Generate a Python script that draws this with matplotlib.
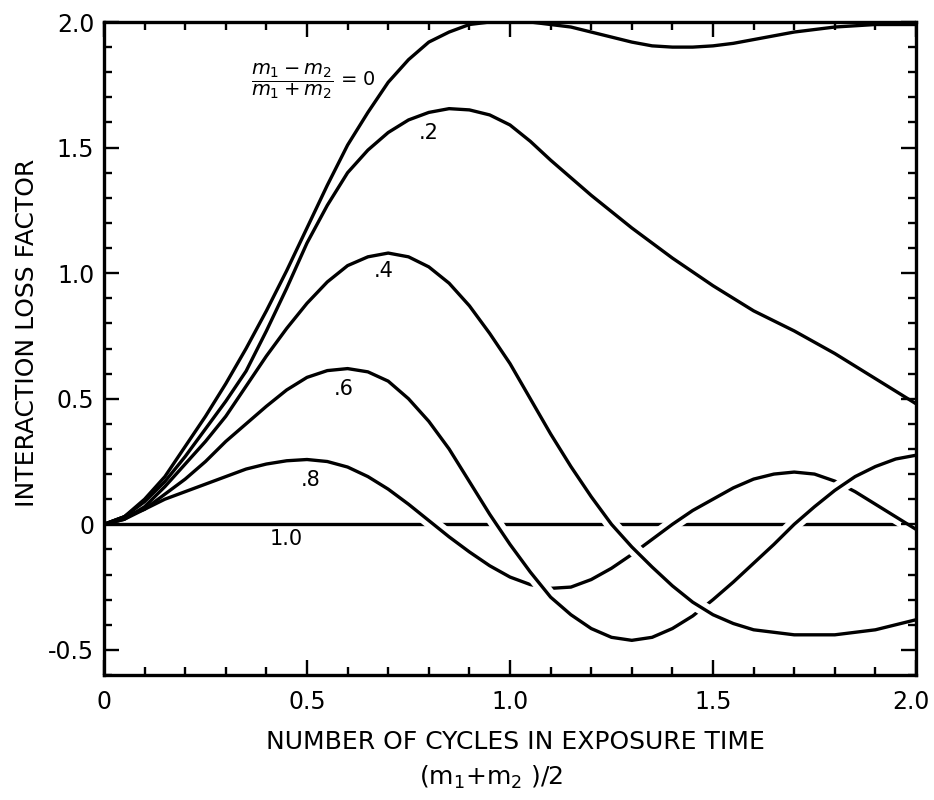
import numpy as np
import matplotlib
matplotlib.use("Agg")
import matplotlib.pyplot as plt
import matplotlib.transforms as mtransforms
from matplotlib.ticker import MultipleLocator, FixedLocator, FixedFormatter

plt.rcParams['font.family'] = ['DejaVu Sans']
plt.rcParams['mathtext.fontset'] = 'dejavusans'

# ---- data ----
x_r0 = [0, 0.05, 0.10, 0.15, 0.20, 0.25, 0.30, 0.35, 0.40, 0.45, 0.50, 0.55, 0.60,
        0.65, 0.70, 0.75, 0.80, 0.85, 0.90, 0.95, 1.00, 1.05, 1.10, 1.15, 1.20, 1.25,
        1.30, 1.35, 1.40, 1.45, 1.50, 1.55, 1.60, 1.70, 1.80, 1.90, 2.00]
y_r0 = [0, 0.03, 0.10, 0.19, 0.31, 0.43, 0.56, 0.70, 0.85, 1.01, 1.18, 1.35, 1.51,
        1.64, 1.76, 1.85, 1.92, 1.96, 1.99, 2.00, 2.00, 2.00, 1.99, 1.98, 1.96, 1.94,
        1.92, 1.905, 1.90, 1.90, 1.905, 1.915, 1.93, 1.96, 1.98, 1.99, 1.99]

x_r2 = [0, 0.05, 0.10, 0.15, 0.20, 0.25, 0.30, 0.35, 0.40, 0.45, 0.50, 0.55, 0.60,
        0.65, 0.70, 0.75, 0.80, 0.85, 0.90, 0.95, 1.00, 1.05, 1.10, 1.20, 1.30, 1.40,
        1.50, 1.60, 1.70, 1.80, 1.90, 2.00]
y_r2 = [0, 0.03, 0.09, 0.17, 0.27, 0.38, 0.49, 0.61, 0.77, 0.94, 1.12, 1.27, 1.40,
        1.49, 1.56, 1.61, 1.64, 1.655, 1.65, 1.63, 1.59, 1.525, 1.45, 1.31, 1.18, 1.06,
        0.95, 0.85, 0.77, 0.68, 0.58, 0.48]

x_r4 = [0, 0.05, 0.10, 0.15, 0.20, 0.25, 0.30, 0.35, 0.40, 0.45, 0.50, 0.55, 0.60,
        0.65, 0.70, 0.75, 0.80, 0.85, 0.90, 0.95, 1.00, 1.05, 1.10, 1.15, 1.20, 1.25,
        1.30, 1.35, 1.40, 1.45, 1.50, 1.55, 1.60, 1.70, 1.80, 1.90, 2.00]
y_r4 = [0, 0.02, 0.07, 0.15, 0.24, 0.33, 0.43, 0.55, 0.67, 0.78, 0.88, 0.965, 1.03,
        1.065, 1.08, 1.065, 1.025, 0.96, 0.87, 0.76, 0.64, 0.50, 0.36, 0.23, 0.11, 0.00,
        -0.09, -0.17, -0.245, -0.31, -0.36, -0.395, -0.42, -0.44, -0.44, -0.42, -0.38]

x_r6 = [0, 0.05, 0.10, 0.15, 0.20, 0.25, 0.30, 0.35, 0.40, 0.45, 0.50, 0.55, 0.60,
        0.65, 0.70, 0.75, 0.80, 0.85, 0.90, 0.95, 1.00, 1.05, 1.10, 1.15, 1.20, 1.25,
        1.30, 1.35, 1.40, 1.45, 1.50, 1.55, 1.60, 1.65, 1.70, 1.75, 1.80, 1.85, 1.90,
        1.95, 2.00]
y_r6 = [0, 0.02, 0.06, 0.12, 0.18, 0.25, 0.33, 0.40, 0.47, 0.535, 0.585, 0.612, 0.62,
        0.607, 0.57, 0.50, 0.41, 0.30, 0.17, 0.04, -0.08, -0.19, -0.29, -0.36, -0.415,
        -0.45, -0.462, -0.45, -0.415, -0.365, -0.30, -0.23, -0.155, -0.08, 0.00, 0.07,
        0.135, 0.19, 0.23, 0.26, 0.275]

x_r8 = [0, 0.05, 0.10, 0.15, 0.20, 0.25, 0.30, 0.35, 0.40, 0.45, 0.50, 0.55, 0.60,
        0.65, 0.70, 0.75, 0.80, 0.85, 0.90, 0.95, 1.00, 1.05, 1.10, 1.15, 1.20, 1.25,
        1.30, 1.35, 1.40, 1.45, 1.50, 1.55, 1.60, 1.65, 1.70, 1.75, 1.80, 1.85, 1.90,
        1.95, 2.00]
y_r8 = [0, 0.03, 0.06, 0.10, 0.13, 0.16, 0.19, 0.22, 0.24, 0.253, 0.258, 0.25, 0.228,
        0.19, 0.14, 0.08, 0.015, -0.05, -0.11, -0.165, -0.21, -0.24, -0.255, -0.25,
        -0.22, -0.175, -0.12, -0.06, 0.00, 0.055, 0.10, 0.145, 0.18, 0.20, 0.208, 0.20,
        0.172, 0.13, 0.08, 0.03, -0.02]

x_r10 = [0, 2.0]
y_r10 = [0, 0]

curve_labels = ['.2', '.4', '.6', '.8', '1.0']
label_x = [0.80, 0.69, 0.59, 0.51, 0.45]
label_y = [1.56, 1.01, 0.54, 0.175, -0.06]

xtick_vals = [0, 0.5, 1.0, 1.5, 2.0]
xtick_labels = ['0', '0.5', '1.0', '1.5', '2.0']
ytick_vals = [-0.5, 0, 0.5, 1.0, 1.5, 2.0]
ytick_labels = ['-0.5', '0', '0.5', '1.0', '1.5', '2.0']

# ---- figure ----
W, H = 934, 800
fig = plt.figure(figsize=(W / 100, H / 100), dpi=100)
ax = fig.add_axes([104 / W, 1 - 675 / H, 812 / W, 653 / H])
ax.set_xlim(0, 2.0)
ax.set_ylim(-0.6, 2.0)

LW = 2.4
GAP = 10


def draw(xs, ys, z, gap_from=None):
    xs = np.asarray(xs)
    ys = np.asarray(ys)
    if gap_from is not None:
        m = xs >= gap_from
        ax.plot(xs[m], ys[m], color='white', lw=GAP, solid_capstyle='butt',
                zorder=z - 0.05)
    ax.plot(xs, ys, color='black', lw=LW, solid_capstyle='round',
            solid_joinstyle='round', zorder=z)


draw(x_r10, y_r10, 2.0)
draw(x_r8, y_r8, 2.1, gap_from=0.7)
draw(x_r6, y_r6, 2.2, gap_from=0.75)
draw(x_r4, y_r4, 2.3, gap_from=0.75)
draw(x_r2, y_r2, 2.35)
draw(x_r0, y_r0, 2.4)

for t, lx, ly in zip(curve_labels, label_x, label_y):
    ax.text(lx, ly, t, fontsize=15, ha='center', va='center', zorder=3)

ax.text(0.67, 1.765, r'$\dfrac{m_1 - m_2}{m_1 + m_2}$ = 0', fontsize=14,
        ha='right', va='center', zorder=3)

# ---- axes styling ----
ax.set_axisbelow(False)
for s in ax.spines.values():
    s.set_linewidth(2.4)
ax.xaxis.set_major_locator(FixedLocator(xtick_vals))
ax.xaxis.set_major_formatter(FixedFormatter(xtick_labels))
ax.yaxis.set_major_locator(FixedLocator(ytick_vals))
ax.yaxis.set_major_formatter(FixedFormatter(ytick_labels))
ax.xaxis.set_minor_locator(MultipleLocator(0.1))
ax.yaxis.set_minor_locator(MultipleLocator(0.1))
ax.tick_params(which='both', direction='in', top=True, right=True, width=1.7)
ax.tick_params(which='major', length=11)
ax.tick_params(which='minor', length=6)
ax.tick_params(axis='x', which='major', labelsize=17, pad=11)
ax.tick_params(axis='y', which='major', labelsize=17, pad=7)

fig.canvas.draw()
last = ax.get_xticklabels()[-1]
last.set_transform(last.get_transform() +
                   mtransforms.ScaledTranslation(-5 / 100, 0, fig.dpi_scale_trans))

fig.text(27 / W, 1 - 333 / H, 'INTERACTION LOSS FACTOR', fontsize=18,
         rotation=90, ha='center', va='center')
fig.text(515 / W, 1 - 742 / H, 'NUMBER OF CYCLES IN EXPOSURE TIME', fontsize=18,
         ha='center', va='center')
fig.text(491 / W, 1 - 777 / H, r'(m$_1$+m$_2$ )/2', fontsize=18,
         ha='center', va='center')

fig.savefig('out.png', dpi=100, facecolor='white')
